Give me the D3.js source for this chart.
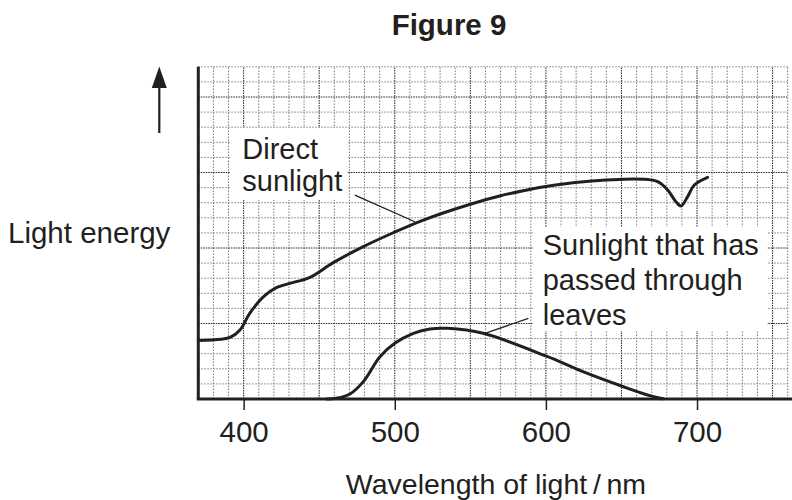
<!DOCTYPE html>
<html><head><meta charset="utf-8">
<script src="https://cdn.jsdelivr.net/npm/d3@7"></script>
<style>body{margin:0;background:#fff}svg{display:block}text{font-family:"Liberation Sans",Arial,sans-serif;fill:#231f20}</style>
</head><body><svg id="c" width="792" height="500"></svg>
<script>
// Data (wavelength nm, relative light energy in grid squares)
const directWavelength = [370,385,391,397.6,404,413,422,430.6,443.9,459.3,479.2,499,518.9,550,570,587.5,599,625,665,674,680.6,686,689.4,693.8,698.2,707];
const directEnergy     = [3.88,3.96,4.08,4.57,5.67,6.77,7.39,7.66,8.06,9.03,10.09,11.01,11.85,12.9,13.46,13.84,14.06,14.39,14.55,14.39,13.84,13.07,12.78,13.40,14.17,14.68];
const leafWavelength = [455,465,470.4,479.2,490.2,500,512.3,523.3,535,558.5,600,624.5,650,668.8,677.6];
const leafEnergy     = [0,0.12,0.33,1.15,2.8,3.69,4.35,4.64,4.68,4.35,2.85,1.81,0.86,0.22,0.02];
const xTicks = [400,500,600,700];
const title = "Figure 9";
const yLabel = "Light energy";
const xLabel = "Wavelength of light\u2009/\u2009nm";
const directLabel = ["Direct","sunlight"];
const leafLabel = ["Sunlight that has","passed through","leaves"];

const svg = d3.select("#c");
const ink = "#231f20";
const x = d3.scaleLinear().domain([370,760]).range([198.3,787.7]);
const y = d3.scaleLinear().domain([0,22]).range([399,66.8]);

// grid
const g = svg.append("g");
d3.range(380,761,10).forEach(v=>{
  const major = v%50===0;
  g.append("line").attr("x1",x(v)).attr("x2",x(v)).attr("y1",y(0)).attr("y2",y(22))
   .attr("stroke",major?"#222":"#7a7a7a").attr("stroke-width",1).attr("stroke-dasharray",major?"1.5,1":"1.5,1.5");
});
d3.range(1,23,1).forEach(v=>{
  const major = v%5===0;
  g.append("line").attr("x1",x(370)).attr("x2",x(760)).attr("y1",y(v)).attr("y2",y(v))
   .attr("stroke",major?"#222":"#7a7a7a").attr("stroke-width",1).attr("stroke-dasharray",major?"1.5,1":"1.5,1.5");
});

// label backgrounds
svg.append("rect").attr("x",x(391)).attr("y",y(17.95)).attr("width",x(468.4)-x(391)).attr("height",y(13.18)-y(17.95)).attr("fill","#fff");
svg.append("rect").attr("x",x(591.5)).attr("y",y(11.39)).attr("width",x(746.4)-x(591.5)).attr("height",y(4.5)-y(11.39)).attr("fill","#fff");

// axes
const xAxis = d3.axisBottom(x).tickValues(xTicks).tickSize(11).tickFormat(d3.format("d"));
const ax = svg.append("g").attr("transform",`translate(0,${y(0)})`).call(xAxis);
ax.select(".domain").remove();
ax.selectAll(".tick line").attr("stroke",ink).attr("stroke-width",1.5);
ax.selectAll(".tick text").attr("font-size",29.5).attr("y",22).attr("dy","0.71em").style("fill",ink)
  .attr("font-family","'Liberation Sans',Arial,sans-serif");
svg.append("line").attr("x1",x(370)-1.5).attr("x2",792).attr("y1",y(0)).attr("y2",y(0)).attr("stroke",ink).attr("stroke-width",3);
svg.append("line").attr("x1",x(370)).attr("x2",x(370)).attr("y1",y(0)).attr("y2",y(22)).attr("stroke",ink).attr("stroke-width",3);

// curves
const line = d3.line().x(d=>x(d[0])).y(d=>y(d[1])).curve(d3.curveCatmullRom.alpha(0.5));
svg.append("path").datum(d3.zip(directWavelength,directEnergy)).attr("d",line)
  .attr("fill","none").attr("stroke",ink).attr("stroke-width",3).attr("stroke-linecap","round");
svg.append("path").datum(d3.zip(leafWavelength,leafEnergy)).attr("d",line)
  .attr("fill","none").attr("stroke",ink).attr("stroke-width",3).attr("stroke-linecap","round");

// pointer lines
svg.append("line").attr("x1",x(473.6)).attr("y1",y(13.5)).attr("x2",x(513.3)).attr("y2",y(11.74)).attr("stroke",ink).attr("stroke-width",1.3);
svg.append("line").attr("x1",x(588.4)).attr("y1",y(5.34)).attr("x2",x(559.7)).attr("y2",y(4.35)).attr("stroke",ink).attr("stroke-width",1.3);

// label text
const dl = [15.87,13.75];
directLabel.forEach((t,i)=>svg.append("text").attr("x",x(399.1)).attr("y",y(dl[i])).attr("font-size",29).text(t));
const ll = [9.54,7.22,4.9];
leafLabel.forEach((t,i)=>svg.append("text").attr("x",x(597.9)).attr("y",y(ll[i])).attr("font-size",29).text(t));

// titles
svg.append("text").attr("x",449).attr("y",35).attr("text-anchor","middle").attr("font-size",29.5).attr("font-weight","bold").text(title);
svg.append("text").attr("x",8).attr("y",243).attr("font-size",29.5).text(yLabel);
svg.append("text").attr("x",496).attr("y",494).attr("text-anchor","middle").attr("font-size",28.5).text(xLabel);

// arrow
svg.append("line").attr("x1",159.3).attr("x2",159.3).attr("y1",133).attr("y2",80).attr("stroke",ink).attr("stroke-width",2.2);
svg.append("path").attr("d","M159.3,66.5 L151.8,88 L166.8,88 Z").attr("fill",ink);
</script></body></html>
